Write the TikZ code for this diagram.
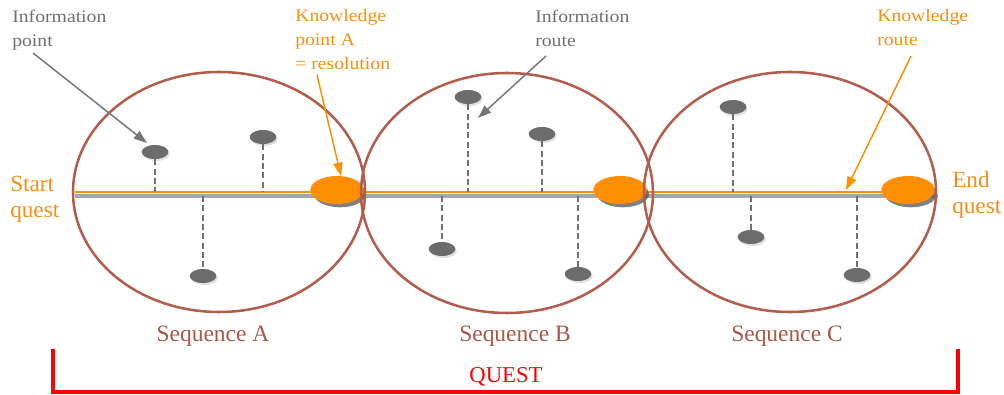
\documentclass[tikz,border=0pt]{standalone}
\usepackage{fontspec}
\setmainfont{Liberation Serif}
\newfontfamily\labelfont{Liberation Serif}[FakeStretch=1.12]
\usetikzlibrary{shapes.geometric,arrows.meta}

\definecolor{ringbrown}{RGB}{178,94,78}
\definecolor{seqbrown}{RGB}{168,88,72}
\definecolor{kworange}{RGB}{255,143,0}
\definecolor{kwtext}{RGB}{246,142,22}
\definecolor{infotext}{RGB}{112,112,112}
\definecolor{infoarrow}{RGB}{118,118,118}
\definecolor{dotgrey}{RGB}{108,108,108}
\definecolor{stickgrey}{RGB}{112,112,112}
\definecolor{routegrey}{RGB}{165,165,165}
\definecolor{questred}{RGB}{255,0,0}

\tikzset{
  ring/.style={ellipse, draw=ringbrown, line width=1.9pt, inner sep=0pt,
    minimum width=219pt, minimum height=180pt},
  kpoint/.style={ellipse, fill=kworange, inner sep=0pt,
    minimum width=40pt, minimum height=21pt},
  kshadow/.style={ellipse, fill=black!70, opacity=0.7, inner sep=0pt,
    minimum width=39pt, minimum height=20pt},
  infodot/.style={ellipse, fill=dotgrey, inner sep=0pt,
    minimum width=20pt, minimum height=10.5pt},
  dotshadow/.style={ellipse, fill=black!30, opacity=0.4, inner sep=0pt,
    minimum width=20pt, minimum height=10.5pt},
  stick/.style={draw=stickgrey, line width=2.2pt, dash pattern=on 4.6pt off 2.4pt},
  kroute/.style={draw=kworange, line width=2pt},
  groute/.style={draw=routegrey, line width=3.4pt},
  infoarr/.style={draw=infoarrow, line width=1.1pt,
    -{Triangle[length=10pt,width=7pt]}},
  kwarr/.style={draw=kworange, line width=1.1pt,
    -{Triangle[length=10pt,width=7pt]}},
  infolabel/.style={text=infotext, font=\labelfont\fontsize{13.2pt}{18pt}\selectfont,
    align=left, inner sep=0pt, anchor=base west},
  kwlabel/.style={text=kwtext, font=\labelfont\fontsize{13.2pt}{18pt}\selectfont,
    align=left, inner sep=0pt, anchor=base west},
  endlabel/.style={text=kwtext, font=\fontsize{17.4pt}{20pt}\selectfont,
    align=left, inner sep=0pt, anchor=base west},
  seqlabel/.style={text=seqbrown, font=\fontsize{17.6pt}{20pt}\selectfont,
    inner sep=0pt, anchor=base},
  bracket/.style={draw=questred, line width=3pt}
}

\begin{document}
\begin{tikzpicture}[x=0.75pt,y=-0.75pt]
\useasboundingbox (0,0) rectangle (1004,395);

% end points of the route
\coordinate (rs) at (75,192);
\coordinate (gs) at (75,196);
\coordinate (ge) at (938,196);

% shaded underlay and the orange knowledge route
\draw[groute] (gs) -- (ge);
\draw[kroute] (rs) -- (908,192) coordinate (re);

% information points with their dashed links to the route
\foreach \n/\x/\y in {a1/155/152, a2/263/137, a3/203/276,
                      b1/468/97, b2/542/134, b3/442/249, b4/578/274,
                      c1/733/107, c2/751/237, c3/857/275} {
  \node[dotshadow] at (\x+1.5,\y+2) {};
  \node[infodot] (\n) at (\x,\y) {};
}
\foreach \n in {a1,a2,b1,b2,c1}
  \draw[stick] (\n.south) -- (\n.south |- rs);
\foreach \n in {a3,b3,b4,c2,c3}
  \draw[stick] (\n.north |- gs) -- (\n.north);

% knowledge points (resolutions)
\foreach \n/\x in {kA/337, kB/620, kC/908} {
  \node[kshadow] at (\x+3,194) {};
  \node[kpoint] (\n) at (\x,190) {};
}

% the three sequences
\node[ring] (seqA) at (219,192) {};
\node[ring] (seqB) at (507,193) {};
\node[ring] (seqC) at (790,192) {};

% labels (anchored at the baseline of their last line)
\node[infolabel] (ipoint) at (12,47) {Information\\point};
\node[kwlabel] (kpointA) at (295,70) {Knowledge\\point A\\= resolution};
\node[infolabel] (iroute) at (535,47) {Information\\route};
\node[kwlabel] (kroutelbl) at (877,46) {Knowledge\\route};
\node[endlabel] (start) at (10,218) {Start\\quest};
\node[endlabel] (end) at (952,214) {End\\quest};

\node[seqlabel] (lblA) at (213,342) {Sequence A};
\node[seqlabel] (lblB) at (515,342) {Sequence B};
\node[seqlabel] (lblC) at (787,342) {Sequence C};

% pointers from the labels
\coordinate (ipS) at (33,53);   \coordinate (ipT) at (147,143);
\coordinate (kaS) at (317,75);  \coordinate (kaT) at (341,176);
\coordinate (irS) at (546,56);  \coordinate (irT) at (478,118);
\coordinate (krS) at (911,56);  \coordinate (krT) at (846,190);
\draw[infoarr] (ipS) -- (ipT);
\draw[kwarr] (kaS) -- (kaT);
\draw[infoarr] (irS) -- (irT);
\draw[kwarr] (krS) -- (krT);

% the quest bracket
\coordinate (qL) at (53,349);
\coordinate (qR) at (958,349);
\draw[bracket] (qL) -- (qL |- 0,392) -- (qR |- 0,392) -- (qR);
\node[text=questred, font=\fontsize{17pt}{20pt}\selectfont, inner sep=0pt,
  anchor=base] (quest) at (506,383) {QUEST};
\end{tikzpicture}
\end{document}
